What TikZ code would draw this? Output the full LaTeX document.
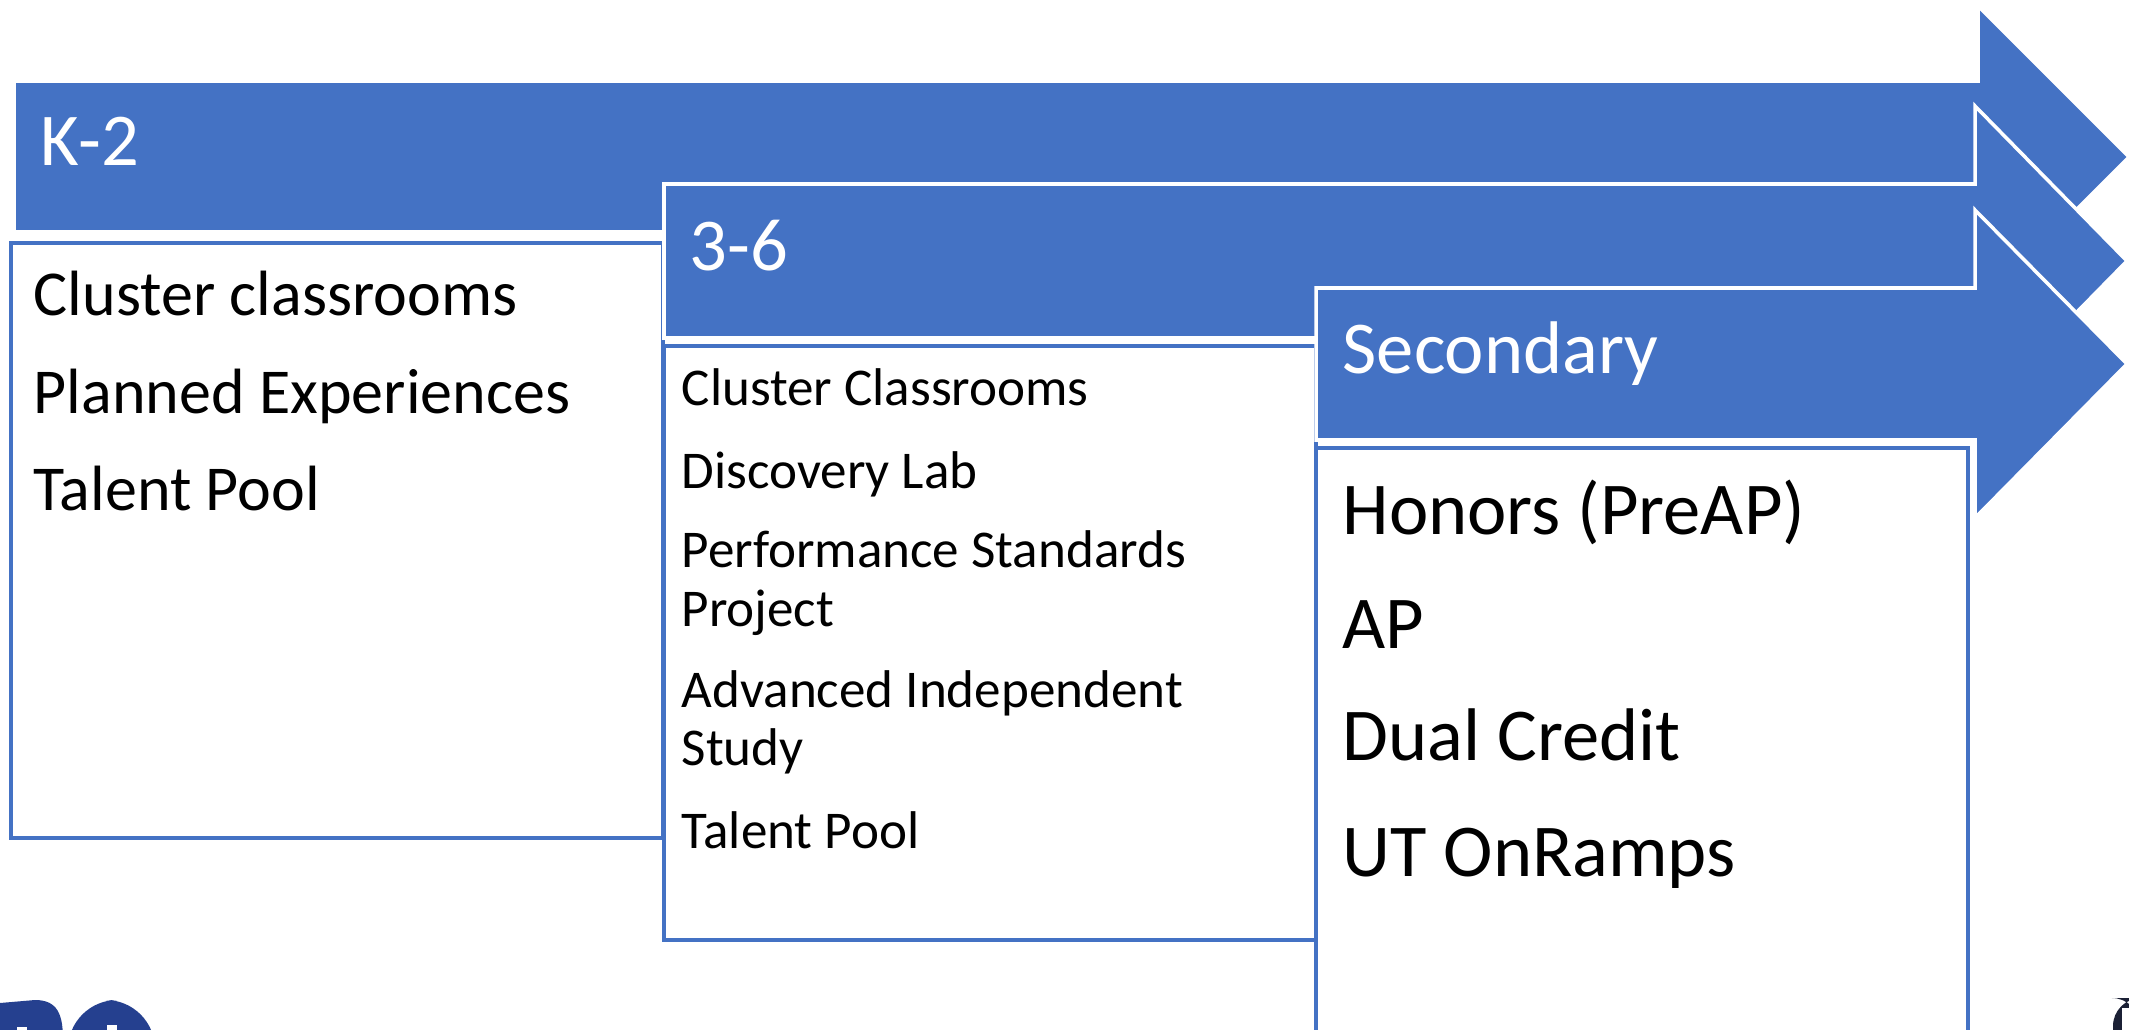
\documentclass[tikz,border=0pt]{standalone}
\usepackage{fontspec}
\setmainfont{Carlito}
\usepackage{xcolor}
\usepackage{tikz}
\definecolor{stageblue}{HTML}{4472C4}
\definecolor{logoblue}{HTML}{25408F}
\definecolor{logodark}{HTML}{1B2035}
\tikzset{
  stagearrow/.style={fill=stageblue, draw=white, line width=1pt, line join=miter},
  stagebox/.style={fill=white, draw=stageblue, line width=0.9pt},
  stagetitle/.style={anchor=base west, inner sep=0pt, text=white, font=\fontsize{21.2}{26}\selectfont},
  itembig/.style={anchor=base west, inner sep=0pt, font=\fontsize{21.2}{26}\selectfont},
  itemmid/.style={anchor=base west, inner sep=0pt, font=\fontsize{18.2}{22}\selectfont},
  itemsmall/.style={anchor=base west, inner sep=0pt, font=\fontsize{15.1}{18}\selectfont}
}

\begin{document}
\begin{tikzpicture}[x=0.01cm, y=-0.01cm]
        \clip (0, 0) rectangle (2129, 1030);
        \fill[white] (0, 0) rectangle (2129, 1030);

        % K-2
        \draw[stagearrow] (14, 81) -- (1978, 81) -- (1978, 6) -- (2129, 157)
            -- (1978, 308) -- (1978, 232) -- (14, 232) -- cycle;
        \draw[stagebox] (11, 243) rectangle (663, 838);
        \node[stagetitle] (k2) at (40, 165) {K-2};
        \node[itemmid] (k2a) at (33, 315) {Cluster classrooms};
        \node[itemmid] (k2b) at (33, 413) {Planned Experiences};
        \node[itemmid] (k2c) at (33, 510) {Talent Pool};

        % 3-6
        \draw[stagearrow] (664, 184) -- (1975, 184) -- (1975, 106) -- (2127, 261)
            -- (1975, 416) -- (1975, 338) -- (664, 338) -- cycle;
        \draw[stagebox] (664, 346) rectangle (1316, 940);
        \node[stagetitle] (g36) at (689, 270) {3-6};
        \node[itemsmall] (g36a) at (681, 405) {Cluster Classrooms};
        \node[itemsmall] (g36b) at (681, 488) {Discovery Lab};
        \node[itemsmall] (g36c) at (681, 567) {Performance Standards};
        \node[itemsmall] (g36cc) at (681, 626) {Project};
        \node[itemsmall] (g36d) at (681, 707) {Advanced Independent};
        \node[itemsmall] (g36dd) at (681, 765) {Study};
        \node[itemsmall] (g36e) at (681, 848) {Talent Pool};

        % Secondary
        \draw[stagearrow] (1316, 288) -- (1975, 288) -- (1975, 210) -- (2127, 364)
            -- (1975, 518) -- (1975, 440) -- (1316, 440) -- cycle;
        \draw[stagebox] (1316, 448) rectangle (1968, 1060);
        \node[stagetitle] (sec) at (1342, 373) {Secondary};
        \node[itembig] (seca) at (1342, 534) {Honors (PreAP)};
        \node[itembig] (secb) at (1342, 648) {AP};
        \node[itembig] (secc) at (1342, 760) {Dual Credit};
        \node[itembig] (secd) at (1342, 876) {UT OnRamps};

        % logo fragments
        \fill[logoblue] (0, 1040) -- (0, 1003) -- (35, 1000)
            .. controls (58, 1000) and (63, 1015) .. (63, 1040) -- cycle;
        \fill[logoblue, rounded corners=14] (68, 1040) -- (68, 1000) -- (155, 1000) -- (155, 1040);
        \fill[white] (17, 1027) rectangle (27, 1035);
        \fill[white] (107, 1025) rectangle (117, 1035);
        \fill[logodark, rounded corners=8] (2113, 1040) -- (2113, 998) -- (2140, 998) -- (2140, 1040);
        \fill[white] (2122, 1008) rectangle (2140, 1040);
        \end{tikzpicture}
\end{document}
